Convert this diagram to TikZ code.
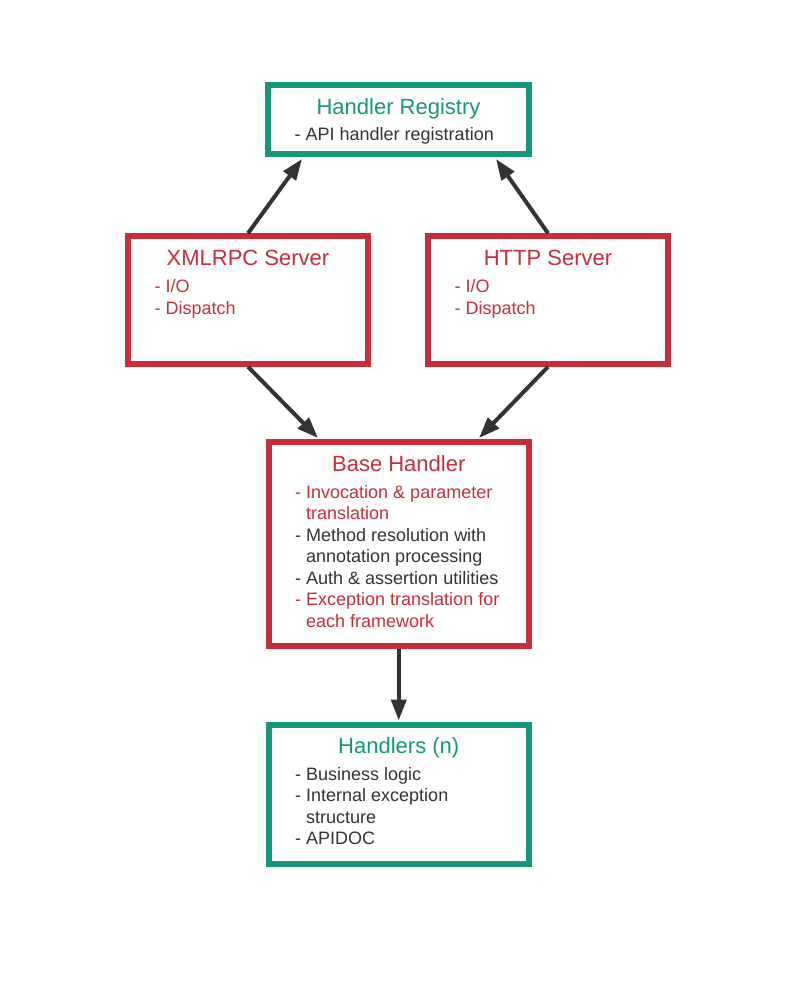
\documentclass[tikz,border=0pt]{standalone}
\usepackage{fontspec}
\setmainfont{Liberation Sans}
\usetikzlibrary{arrows.meta}

\definecolor{regteal}{RGB}{22,150,124}
\definecolor{srvred}{RGB}{201,45,58}
\definecolor{txtgray}{RGB}{51,51,51}

\tikzset{box/.style     = {draw, line width=6pt, inner sep=0pt, fill=white},
         tealbox/.style = {box, draw=regteal},
         redbox/.style  = {box, draw=srvred},
         title/.style   = {anchor=base, inner sep=0pt,
                           font=\fontsize{22}{26}\selectfont},
         items/.style   = {anchor=base west, inner sep=0pt,
                           text=txtgray, font=\fontsize{18}{21.5}\selectfont},
         arr/.style     = {draw=txtgray, line width=4pt,
                           -{Triangle[length=21pt,width=15pt]}}}

\newcommand{\hang}{\phantom{- }}
\newcommand{\itemlist}[1]{\begin{tabular}[t]{@{}l@{}}#1\end{tabular}}

\begin{document}
\begin{tikzpicture}[x=1pt,y=-1pt]

\useasboundingbox (0,0) rectangle (800,985);

%%% boxes
   \node[tealbox, minimum width=261pt,   minimum height=69pt]    (reg)  at (398.5,119.5) {};
   \node[redbox,  minimum width=240pt,   minimum height=127.5pt] (xml)  at (248,300) {};
   \node[redbox,  minimum width=240pt,   minimum height=127.5pt] (http) at (548,300) {};
   \node[redbox,  minimum width=260.5pt, minimum height=204pt]   (base) at (398.75,544) {};
   \node[tealbox, minimum width=260.5pt, minimum height=138.5pt] (hnd)  at (398.75,794.25) {};

%%% titles
   \node[title, text=regteal] (regT)  at ([yshift=-32pt]reg.north)  {Handler Registry};
   \node[title, text=srvred]  (xmlT)  at ([yshift=-32.5pt]xml.north)  {XMLRPC Server};
   \node[title, text=srvred]  (httpT) at ([yshift=-32.5pt]http.north) {HTTP Server};
   \node[title, text=srvred]  (baseT) at ([yshift=-32pt]base.north) {Base Handler};
   \node[title, text=regteal] (hndT)  at ([yshift=-31pt]hnd.north)  {Handlers (n)};

%%% item lists
   \node[items] (regL) at ([xshift=29.5pt,yshift=-58.5pt]reg.north west)
        {\itemlist{- API handler registration}};
   \node[items, text=srvred] (xmlL) at ([xshift=29.5pt,yshift=-59.5pt]xml.north west)
        {\itemlist{- I/O\\- Dispatch}};
   \node[items, text=srvred] (httpL) at ([xshift=29.5pt,yshift=-59.5pt]http.north west)
        {\itemlist{- I/O\\- Dispatch}};
   \node[items] (baseL) at ([xshift=29.5pt,yshift=-59pt]base.north west)
        {\itemlist{\textcolor{srvred}{- Invocation \& parameter}\\
         \textcolor{srvred}{\hang translation}\\
         - Method resolution with\\
         \hang annotation processing\\
         - Auth \& assertion utilities\\
         \textcolor{srvred}{- Exception translation for}\\
         \textcolor{srvred}{\hang each framework}}};
   \node[items] (hndL) at ([xshift=29.5pt,yshift=-58pt]hnd.north west)
        {\itemlist{- Business logic\\
         - Internal exception\\
         \hang structure\\
         - APIDOC}};

%%% connectors
   \draw[arr] (xml.north)  -- ([xshift=37pt,yshift=-2pt]reg.south west);
   \draw[arr] (http.north) -- ([xshift=-36pt,yshift=-2pt]reg.south east);
   \draw[arr] (xml.south)  -- ([xshift=52.5pt,yshift=1pt]base.north west);
   \draw[arr] (http.south) -- ([xshift=-53pt,yshift=1pt]base.north east);
   \draw[arr] (base.south) -- ([yshift=1.5pt]hnd.north);

\end{tikzpicture}
\end{document}
